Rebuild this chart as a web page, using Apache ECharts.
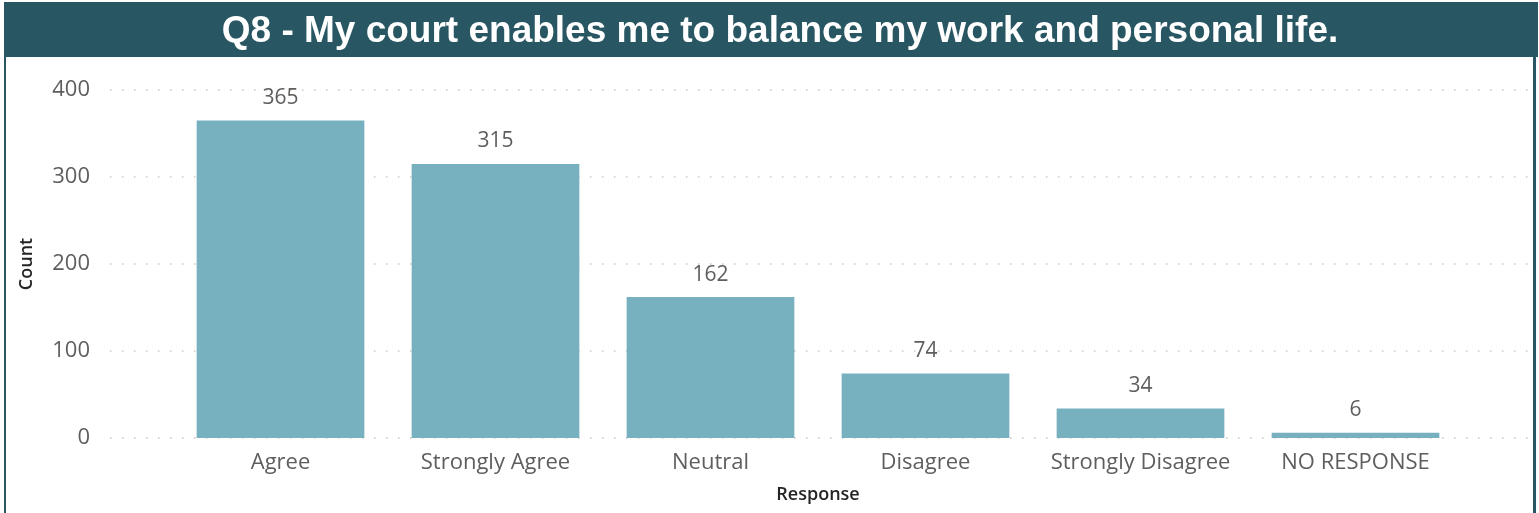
<!DOCTYPE html>
<html>
<head>
<meta charset="utf-8">
<script src="https://cdn.jsdelivr.net/npm/echarts@6/dist/echarts.min.js"></script>
<style>
  html, body { margin: 0; padding: 0; background: #ffffff; }
  #chart { width: 1539px; height: 513px; }
</style>
</head>
<body>
<div id="chart"></div>
<script>
// Survey responses for question 8
const titleText = 'Q8 - My court enables me to balance my work and personal life.';
const categories = ['Agree', 'Strongly Agree', 'Neutral', 'Disagree', 'Strongly Disagree', 'NO RESPONSE'];
const counts = [365, 315, 162, 74, 34, 6];
const yTicks = { min: 0, max: 400, interval: 100 };

const frame = '#285763';
const barColor = '#77B0BE';
const labelFont = '"Open Sans", "Noto Sans", sans-serif';

const chart = echarts.init(document.getElementById('chart'), null, { renderer: 'canvas' });

chart.setOption({
  animation: false,
  backgroundColor: '#ffffff',
  graphic: [
    // header band
    { type: 'rect', left: 4, top: 2, shape: { width: 1534, height: 55 }, style: { fill: frame }, z: 0 },
    // side frame lines
    { type: 'rect', left: 4, top: 2, shape: { width: 2, height: 511 }, style: { fill: frame }, z: 0 },
    { type: 'rect', left: 1533, top: 2, shape: { width: 3, height: 511 }, style: { fill: frame }, z: 0 }
  ],
  title: {
    text: titleText,
    left: 775,
    top: 8,
    textAlign: 'center',
    textStyle: {
      color: '#ffffff',
      fontFamily: '"Liberation Sans", Arial, sans-serif',
      fontWeight: 'bold',
      fontSize: 37
    },
    z: 5
  },
  grid: [
    // value-axis grid spanning the full plot width
    { left: 110, right: 11, top: 90, bottom: 75 },
    // bar grid
    { left: 173, width: 1290, top: 90, bottom: 75 }
  ],
  xAxis: [
    { type: 'value', gridIndex: 0, min: 0, max: 1, show: false },
    {
      type: 'category',
      gridIndex: 1,
      data: categories,
      axisLine: { show: false },
      axisTick: { show: false },
      axisLabel: {
        color: '#605E5C',
        fontFamily: labelFont,
        fontSize: 22,
        margin: 14,
        interval: 0
      },
      name: 'Response',
      nameLocation: 'middle',
      nameGap: 48,
      nameTextStyle: {
        color: '#252423',
        fontFamily: labelFont,
        fontWeight: 600,
        fontSize: 18
      }
    }
  ],
  yAxis: [
    {
      type: 'value',
      gridIndex: 0,
      min: yTicks.min,
      max: yTicks.max,
      interval: yTicks.interval,
      axisLine: { show: false },
      axisTick: { show: false },
      axisLabel: {
        color: '#605E5C',
        fontFamily: labelFont,
        fontSize: 22,
        margin: 20
      },
      splitLine: {
        show: true,
        lineStyle: { color: '#C8C6C4', width: 1.5, type: [1.5, 10.5] }
      },
      name: 'Count',
      nameLocation: 'middle',
      nameGap: 74,
      nameRotate: 90,
      nameTextStyle: {
        color: '#252423',
        fontFamily: labelFont,
        fontWeight: 600,
        fontSize: 18
      }
    },
    {
      type: 'value',
      gridIndex: 1,
      min: yTicks.min,
      max: yTicks.max,
      interval: yTicks.interval,
      show: false
    }
  ],
  series: [
    {
      type: 'bar',
      xAxisIndex: 1,
      yAxisIndex: 1,
      data: counts,
      barCategoryGap: '22%',
      itemStyle: { color: barColor },
      label: {
        show: true,
        position: 'top',
        distance: 12,
        color: '#605E5C',
        fontFamily: labelFont,
        fontSize: 21
      },
      z: 3
    }
  ]
});
</script>
</body>
</html>
